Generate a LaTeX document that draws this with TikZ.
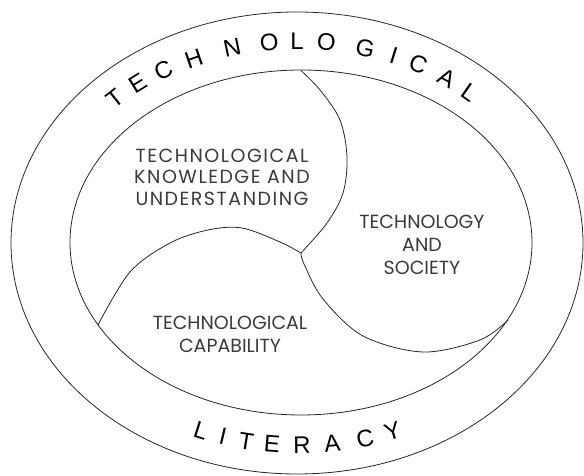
\documentclass[tikz,border=0pt]{standalone}
\usepackage{fontspec}
\setmainfont{Liberation Sans}
\newfontfamily\bodyfont{Poppins}
\newfontfamily\bodyfontwide[LetterSpace=8]{Poppins}
\definecolor{txtgray}{HTML}{3A3A3A}
\begin{document}
\begin{tikzpicture}[x=1pt,y=1pt,
  line/.style={draw=black!85, line width=0.8pt},
  arcletter/.style={font=\fontsize{24}{24}\selectfont, inner sep=0pt, text height=17pt, text depth=0pt, text=black},
  label/.style={font=\fontsize{19}{22}\selectfont\bodyfont, text=txtgray, align=center, inner sep=0pt}]
\useasboundingbox (0,0) rectangle (584,476);
% ellipses
\draw[line] (297,233) ellipse [x radius=286, y radius=231];
\draw[line] (301,233.5) ellipse [x radius=231, y radius=172.5];
% divider points
\coordinate (s1) at (301,405.5);
\coordinate (a1) at (320,386);
\coordinate (a2) at (340,356);
\coordinate (a3) at (347,319);
\coordinate (a4) at (343,283);
\coordinate (a5) at (327,253);
\coordinate (J) at (301,223);
\coordinate (b1) at (280,234);
\coordinate (b2) at (242,248);
\coordinate (b3) at (208,246);
\coordinate (b4) at (170,233);
\coordinate (b5) at (130,204);
\coordinate (b6) at (98,151);
\coordinate (c1) at (304,212);
\coordinate (c2) at (323,177);
\coordinate (c3) at (363,140);
\coordinate (c4) at (423,124);
\coordinate (c5) at (480,136);
\coordinate (c6) at (508,156);
\draw[line] plot[smooth, tension=0.55] coordinates {(s1) (a1) (a2) (a3) (a4) (a5) (J)};
\draw[line] plot[smooth, tension=0.55] coordinates {(J) (b1) (b2) (b3) (b4) (b5) (b6)};
\draw[line] plot[smooth, tension=0.55] coordinates {(J) (c1) (c2) (c3) (c4) (c5) (c6)};
% labels
\node[label, font=\fontsize{19}{21.5}\selectfont\bodyfontwide] (know) at (222,299) {TECHNOLOGICAL\\KNOWLEDGE AND\\UNDERSTANDING};
\node[label, font=\fontsize{19}{23}\selectfont\bodyfont] (soc) at (422,231) {TECHNOLOGY\\AND\\SOCIETY};
\node[label, font=\fontsize{19}{23}\selectfont\bodyfont] (cap) at (230,141.5) {TECHNOLOGICAL\\CAPABILITY};
% arc text top
\foreach \ch/\t/\r [count=\i] in {T/135.2/206, E/128.3/204, C/121.5/203, H/113.8/202, N/104.8/202, O/96.4/202, L/90.2/202, O/83.7/202, G/74.9/202, I/68.2/202, C/62.2/202, A/54.8/202, L/48.3/202} {
  \node[arcletter, rotate={atan2(-202*cos(\t), 258*sin(\t))}] (top\i) at ({298+258*cos(\t)}, {233+\r*sin(\t)}) {\ch};
}
% arc text bottom
\foreach \ch/\t [count=\i] in {L/247.9, I/253.1, T/258.4, E/264.2, R/270.9, A/277.6, C/285.1, Y/291.5} {
  \node[arcletter, rotate={atan2(202*cos(\t), -258*sin(\t))}] (bot\i) at ({298+258*cos(\t)}, {233+202*sin(\t)}) {\ch};
}
\end{tikzpicture}
\end{document}
